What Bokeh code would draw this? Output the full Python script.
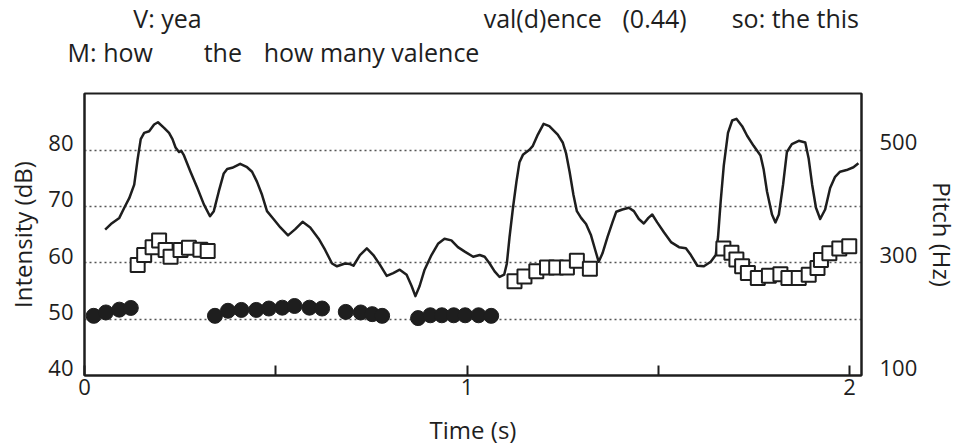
from bokeh.plotting import figure
from bokeh.layouts import column
from bokeh.models import Range1d, LinearAxis, FixedTicker
from bokeh.core.properties import value
from bokeh.embed import file_html
from bokeh.resources import INLINE

# ---- data ----
intensity_t = [0.054, 0.069, 0.091, 0.104, 0.117, 0.130, 0.139, 0.147, 0.156, 0.169, 0.182, 0.192,
               0.208, 0.221, 0.230, 0.238, 0.247, 0.253, 0.260, 0.277, 0.295, 0.312, 0.328, 0.338,
               0.351, 0.364, 0.373, 0.386, 0.407, 0.425, 0.438, 0.451, 0.464, 0.477, 0.494, 0.512,
               0.532, 0.551, 0.570, 0.590, 0.612, 0.629, 0.647, 0.660, 0.681, 0.694, 0.703, 0.720,
               0.738, 0.755, 0.772, 0.790, 0.807, 0.824, 0.842, 0.855, 0.865, 0.876, 0.889, 0.907,
               0.924, 0.941, 0.959, 0.976, 0.994, 1.016, 1.033, 1.046, 1.059, 1.072, 1.085, 1.097,
               1.104, 1.111, 1.120, 1.129, 1.137, 1.146, 1.163, 1.172, 1.185, 1.200, 1.215, 1.237,
               1.250, 1.259, 1.268, 1.278, 1.287, 1.298, 1.311, 1.324, 1.335, 1.344, 1.354, 1.367,
               1.380, 1.390, 1.406, 1.423, 1.436, 1.449, 1.462, 1.474, 1.484, 1.497, 1.515, 1.533,
               1.554, 1.572, 1.585, 1.602, 1.619, 1.637, 1.650, 1.656, 1.663, 1.671, 1.682, 1.693,
               1.704, 1.719, 1.732, 1.749, 1.767, 1.775, 1.784, 1.797, 1.806, 1.815, 1.826, 1.836,
               1.849, 1.867, 1.884, 1.893, 1.902, 1.912, 1.923, 1.936, 1.949, 1.962, 1.975, 1.992,
               2.010, 2.023]
intensity_db = [65.9, 66.9, 68.0, 69.8, 71.5, 73.9, 78.5, 82.0, 83.1, 83.4, 84.6, 85.0,
                84.0, 83.1, 82.0, 80.5, 79.7, 79.9, 79.1, 76.2, 73.3, 70.4, 68.3, 69.2,
                72.7, 75.9, 76.7, 76.9, 77.6, 77.0, 76.2, 74.4, 72.1, 69.2, 67.8, 66.3,
                64.9, 66.0, 67.3, 66.3, 64.3, 62.3, 59.9, 59.4, 59.9, 59.8, 59.5, 61.4,
                62.6, 61.4, 59.7, 57.7, 58.2, 58.8, 57.9, 55.9, 54.1, 55.9, 58.8, 61.4,
                63.4, 64.3, 64.0, 62.8, 62.0, 61.1, 61.4, 61.1, 59.9, 58.5, 57.5, 57.9,
                59.9, 64.6, 69.8, 74.4, 77.9, 79.2, 80.1, 80.8, 82.8, 84.7, 84.3, 82.8,
                81.4, 79.4, 76.2, 72.1, 69.2, 68.0, 66.9, 64.9, 62.3, 60.2, 61.7, 64.6,
                67.2, 69.1, 69.5, 69.8, 69.2, 67.8, 67.0, 68.0, 68.6, 67.2, 65.4, 63.7,
                62.8, 62.6, 61.4, 59.5, 59.4, 60.2, 61.4, 64.6, 71.0, 77.3, 83.1, 85.3,
                85.6, 84.3, 82.6, 80.8, 79.1, 76.7, 72.7, 68.6, 67.2, 68.6, 73.9, 79.7,
                81.1, 81.7, 81.4, 78.5, 73.9, 69.8, 67.8, 69.5, 73.3, 75.3, 76.2, 76.5,
                77.0, 77.7]

# pitch of speaker M (filled circles), Hz
m_pitch_t = [0.024, 0.056, 0.091, 0.121,
             0.341, 0.375, 0.410, 0.449, 0.482, 0.517, 0.549, 0.588, 0.621,
             0.683, 0.722, 0.752, 0.778,
             0.872, 0.904, 0.934, 0.965, 0.995, 1.030, 1.063]
m_pitch_hz = [206, 212, 217, 220,
              206, 215, 216.5, 216.5, 219, 220.5, 223.5, 220.5, 219,
              213, 212, 209, 206,
              202, 207, 207, 207, 207, 207, 206]

# pitch of speaker V (open squares), Hz
v_pitch_t = [0.139, 0.156, 0.178, 0.195, 0.212, 0.225, 0.251, 0.273, 0.303, 0.322,
             1.124, 1.150, 1.181, 1.209, 1.233, 1.261, 1.287, 1.321,
             1.670, 1.691, 1.704, 1.719, 1.734, 1.760, 1.789, 1.819, 1.840, 1.867,
             1.893, 1.916, 1.925, 1.947, 1.973, 1.999]
v_pitch_hz = [296.5, 314, 328, 340, 323, 311, 323, 327, 323.5, 321,
              267.5, 276, 285, 292, 292, 292, 304, 289.5,
              325.5, 318, 306, 294, 282, 273, 277, 280, 273, 273,
              279, 291, 305, 317, 325.5, 329.5]

# transcript (word onsets, s)
v_words = ["V: yea", "val(d)ence", "(0.44)", "so: the this"]
v_words_t = [0.127, 1.038, 1.399, 1.683]
m_words = ["M: how", "the", "how many valence"]
m_words_t = [-0.044, 0.310, 0.466]

db_ticks = [40, 50, 60, 70, 80]
grid_ticks = [50, 60, 70, 80]
hz_ticks = [100, 300, 500]
time_ticks = [0, 0.5, 1, 1.5, 2]
time_labels = {0: "0", 0.5: "", 1: "1", 1.5: "", 2: "2"}

# ---- layout / style ----
FONT = "Open Sans"
INK = "#1e1e1e"
W, H_TOP, H_MAIN = 962, 89, 359
B_LEFT, B_RIGHT, B_TOP, B_BOTTOM = 84, 97, 4, 67
T_END = 2.031
DB_RANGE = (40, 90.1)
HZ_RANGE = (100, 601)
LABEL_LIFT_DB = 1.3     # tick labels sit slightly above their grid line
LABEL_LIFT_HZ = 14
ROW_V_BASE, ROW_M_BASE = 17, 51   # transcript rows (px from top)

px_per_s = (W - B_LEFT - B_RIGHT) / T_END

# transcript strip above the chart (same time scale, spans the full width)
top = figure(width=W, height=H_TOP, output_backend="svg", toolbar_location=None,
             x_range=Range1d(-B_LEFT / px_per_s, T_END + B_RIGHT / px_per_s),
             y_range=Range1d(H_TOP, 0),
             x_axis_location=None, y_axis_location=None,
             min_border_left=0, min_border_right=0, min_border_top=0, min_border_bottom=0)
top.outline_line_color = None
top.grid.visible = False
top.background_fill_color = "white"
top.border_fill_color = "white"
for words, times, base in ((v_words, v_words_t, ROW_V_BASE), (m_words, m_words_t, ROW_M_BASE)):
    top.text(x=times, y=[base] * len(words), text=words,
             text_font=value(FONT), text_font_size="25px", text_color=INK,
             text_baseline="alphabetic", text_align="left")

p = figure(width=W, height=H_MAIN, output_backend="svg", toolbar_location=None,
           x_range=Range1d(0, T_END), y_range=Range1d(*DB_RANGE),
           min_border_left=B_LEFT, min_border_right=B_RIGHT, min_border_top=B_TOP,
           min_border_bottom=B_BOTTOM)
p.background_fill_color = "white"
p.border_fill_color = "white"
p.outline_line_color = INK
p.outline_line_width = 2

if "frame_align" in top.properties():
    top.frame_align = False
    p.frame_align = False

p.extra_y_ranges = {"pitch": Range1d(*HZ_RANGE)}

# grid
p.xgrid.visible = False
p.ygrid.ticker = FixedTicker(ticks=grid_ticks)
p.ygrid.grid_line_color = "#555555"
p.ygrid.grid_line_width = 1.5
p.ygrid.grid_line_dash = "2 3"

# axes
xa = p.xaxis[0]
xa.ticker = FixedTicker(ticks=time_ticks)
xa.major_label_overrides = time_labels
xa.axis_label = "Time (s)"
xa.major_tick_in = 10
xa.major_tick_out = 0
xa.minor_tick_line_color = None
xa.major_label_standoff = 3
xa.axis_label_standoff = 15

ya = p.yaxis[0]
ya.ticker = FixedTicker(ticks=[v + LABEL_LIFT_DB for v in db_ticks])
ya.major_label_overrides = {v + LABEL_LIFT_DB: str(v) for v in db_ticks}
ya.axis_label = "Intensity (dB)"
ya.major_tick_in = 0
ya.major_tick_out = 0
ya.minor_tick_line_color = None
ya.major_label_standoff = 11
ya.axis_label_standoff = 6

ra = LinearAxis(y_range_name="pitch", axis_label="Pitch (Hz)",
                ticker=FixedTicker(ticks=[v + LABEL_LIFT_HZ for v in hz_ticks]))
ra.major_label_overrides = {v + LABEL_LIFT_HZ: str(v) for v in hz_ticks}
ra.major_tick_in = 0
ra.major_tick_out = 0
ra.minor_tick_line_color = None
ra.major_label_standoff = 18
ra.axis_label_standoff = 6
p.add_layout(ra, "right")

for ax in [xa, ya, ra]:
    ax.axis_line_color = INK
    ax.axis_line_width = 2
    ax.major_tick_line_color = INK
    ax.major_tick_line_width = 2
    ax.major_label_text_font = FONT
    ax.major_label_text_font_size = "22px"
    ax.major_label_text_color = INK
    ax.axis_label_text_font = FONT
    ax.axis_label_text_font_size = "24px"
    ax.axis_label_text_font_style = "normal"
    ax.axis_label_text_color = INK

# data glyphs
p.line(intensity_t, intensity_db, line_color=INK, line_width=2.5, line_join="round")
p.scatter(m_pitch_t, m_pitch_hz, y_range_name="pitch", marker="circle", size=15,
          fill_color=INK, line_color=INK)
p.scatter(v_pitch_t, v_pitch_hz, y_range_name="pitch", marker="square", size=14,
          fill_color="white", line_color=INK, line_width=2)

layout = column(top, p, spacing=0)
open("out.html", "w").write(file_html(layout, INLINE))
